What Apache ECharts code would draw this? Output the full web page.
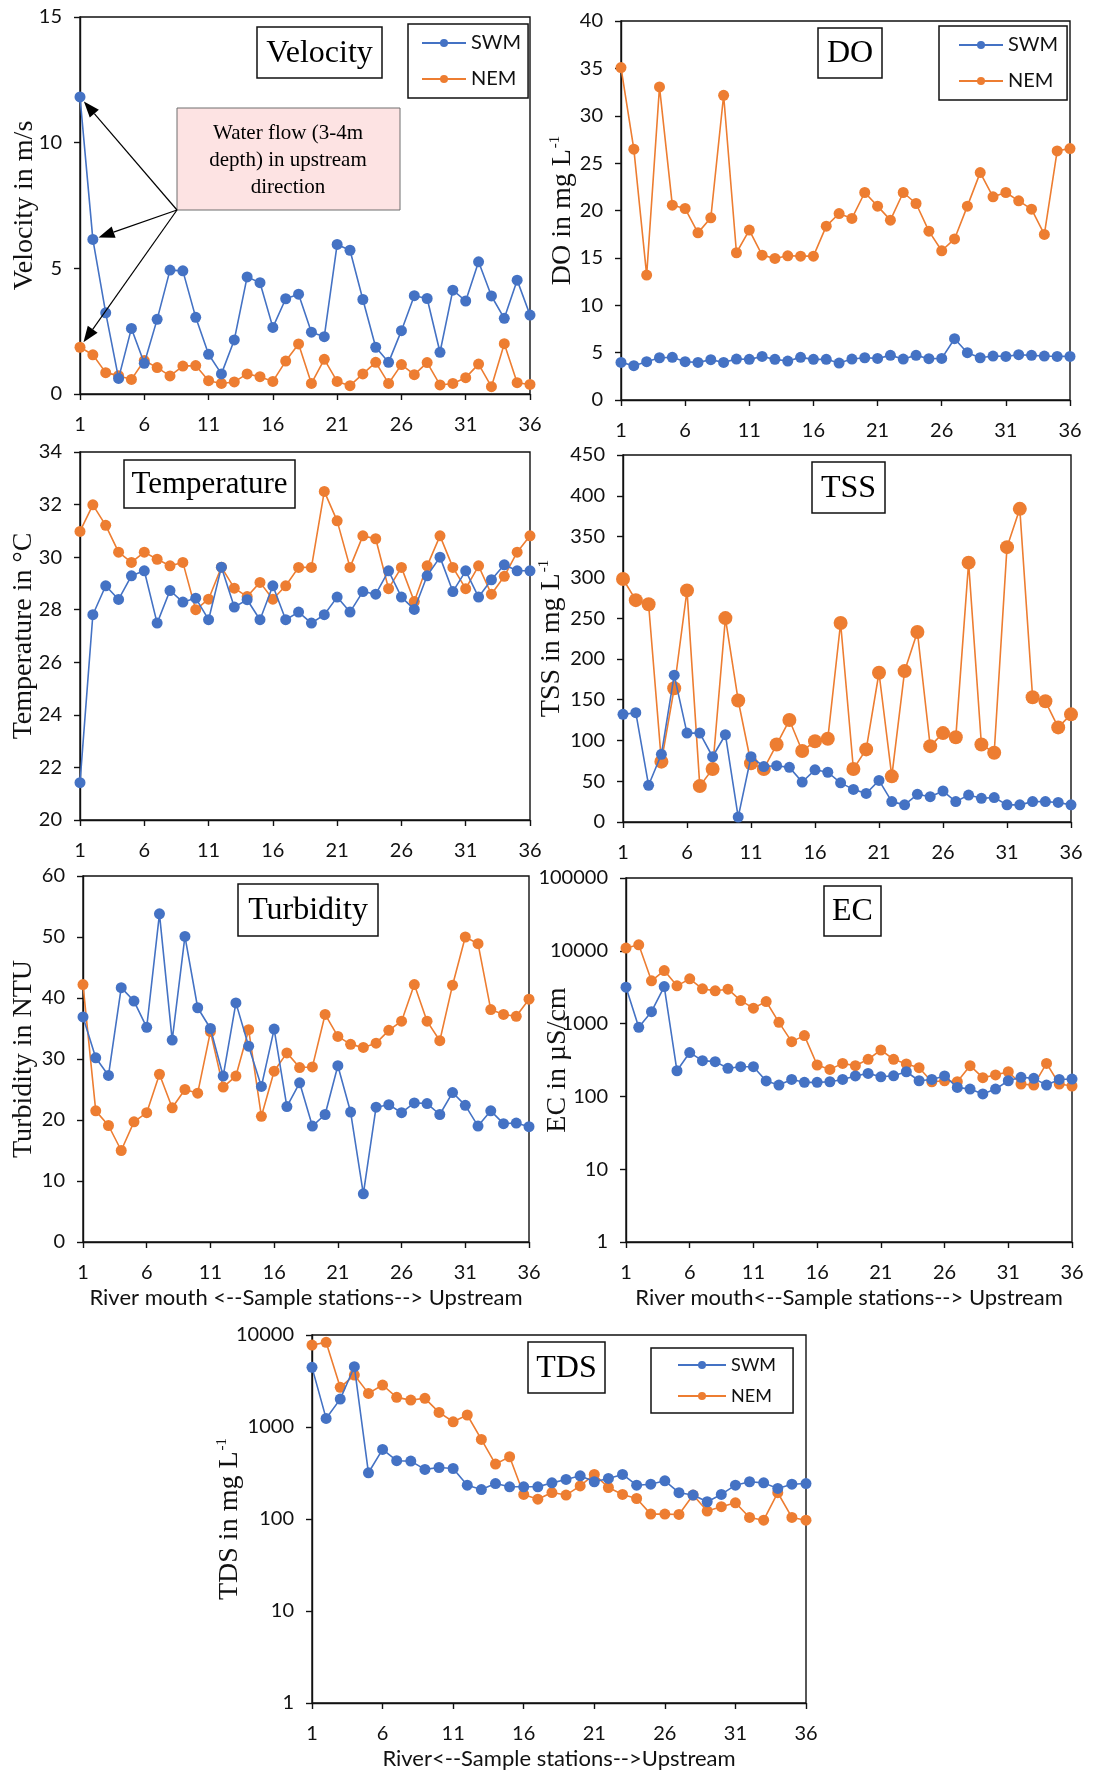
<!DOCTYPE html>
<html>
<head>
<meta charset="utf-8">
<script src="https://cdn.jsdelivr.net/npm/echarts@6/dist/echarts.min.js"></script>
<style>
  html, body { margin: 0; padding: 0; background: #fff; }
  #chart { width: 1093px; height: 1771px; }
</style>
</head>
<body>
<div id="chart"></div>
<script>
// sample stations (river mouth -> upstream)
const stations = ["1","2","3","4","5","6","7","8","9","10","11","12","13","14","15","16","17","18",
  "19","20","21","22","23","24","25","26","27","28","29","30","31","32","33","34","35","36"];

// velocity, m/s
const velSWM = [11.82,6.15,3.23,0.62,2.61,1.22,2.97,4.93,4.9,3.05,1.58,0.8,2.15,4.66,4.43,2.65,3.79,3.97,2.46,2.28,5.95,5.72,3.76,1.86,1.26,2.52,3.91,3.8,1.66,4.13,3.7,5.26,3.9,3.01,4.53,3.14];
const velNEM = [1.86,1.56,0.85,0.73,0.58,1.33,1.05,0.72,1.11,1.13,0.53,0.42,0.48,0.8,0.69,0.5,1.31,1.99,0.42,1.38,0.5,0.33,0.8,1.26,0.42,1.17,0.77,1.25,0.36,0.42,0.65,1.19,0.29,2.0,0.45,0.38];

// dissolved oxygen, mg/L
const doSWM = [3.97,3.62,4.04,4.46,4.5,4.04,3.97,4.25,3.97,4.32,4.29,4.6,4.29,4.11,4.5,4.29,4.29,3.9,4.32,4.46,4.39,4.71,4.32,4.71,4.36,4.39,6.47,4.99,4.46,4.64,4.6,4.78,4.71,4.64,4.6,4.6];
const doNEM = [35.08,26.47,13.18,33.04,20.56,20.21,17.64,19.23,32.16,15.54,17.93,15.29,14.94,15.22,15.18,15.18,18.35,19.68,19.16,21.9,20.46,18.98,21.9,20.74,17.82,15.75,17.0,20.46,24.0,21.44,21.9,21.02,20.14,17.47,26.29,26.54];

// temperature, °C
const tempSWM = [21.42,27.81,28.91,28.39,29.29,29.48,27.49,28.73,28.29,28.44,27.62,29.62,28.1,28.38,27.62,28.91,27.62,27.91,27.49,27.81,28.48,27.91,28.69,28.59,29.48,28.48,28.01,29.29,30.0,28.69,29.48,28.48,29.14,29.71,29.48,29.48];
const tempNEM = [30.98,31.99,31.21,30.19,29.8,30.19,29.92,29.67,29.8,28.0,28.4,29.62,28.82,28.5,29.04,28.4,28.91,29.61,29.61,32.5,31.38,29.61,30.81,30.7,28.8,29.61,28.31,29.67,30.81,29.61,28.8,29.67,28.59,29.27,30.19,30.81];

// total suspended solids, mg/L
const tssSWM = [132,134,45,83,180,109,109,80,107,6,80,68,69,67,49,64,61,48,40,35,51,25,21,34,31,38,25,33,29,30,21,21,25,25,24,21];
const tssNEM = [298,272,267,74,164,284,44,65,250,149,72,65,95,125,87,99,102,244,65,89,183,56,185,233,93,109,104,318,95,85,337,384,153,148,116,132];

// turbidity, NTU
const turbSWM = [36.9,30.2,27.3,41.7,39.5,35.2,53.8,33.1,50.1,38.4,35.0,27.2,39.2,32.1,25.5,34.9,22.2,26.1,19.0,20.9,28.9,21.3,7.9,22.1,22.5,21.2,22.8,22.7,20.9,24.5,22.4,19.0,21.5,19.4,19.5,18.9];
const turbNEM = [42.2,21.5,19.1,15.0,19.7,21.2,27.5,22.0,25.0,24.4,34.5,25.4,27.2,34.8,20.6,28.0,31.0,28.6,28.7,37.3,33.7,32.4,31.9,32.6,34.7,36.2,42.2,36.2,33.0,42.1,50.0,48.9,38.1,37.3,37.0,39.8];

// electrical conductivity, µS/cm
const ecSWM = [3160,890,1460,3230,225,400,310,300,243,256,256,163,143,171,156,156,159,171,191,207,186,192,218,164,171,191,133,126,108,126,164,183,177,143,171,173];
const ecNEM = [10900,12100,3870,5360,3300,4120,3000,2820,2970,2070,1630,2010,1040,565,684,270,235,284,264,323,434,323,279,248,159,164,159,264,181,197,218,148,143,284,148,139];

// total dissolved solids, mg/L
const tdsSWM = [4450,1240,2010,4520,318,570,430,426,346,363,354,233,209,243,224,224,224,247,269,295,254,276,305,233,239,260,193,182,154,185,233,254,247,215,239,243];
const tdsNEM = [7780,8320,2700,3670,2320,2860,2100,1960,2050,1440,1140,1350,733,395,475,185,164,194,182,229,305,220,185,167,113,113,112,182,122,136,150,104,97,193,104,97];

// y ranges [min, max, interval]
const velRange = [0, 15, 5];
const doRange = [0, 40, 5];
const tempRange = [20, 34, 2];
const tssRange = [0, 450, 50];
const turbRange = [0, 60, 10];
const ecRange = [1, 100000];
const tdsRange = [1, 10000];

const blue = "#4472C4";
const orange = "#ED7D31";
const ink = "#111";
const sans = "Lato";
const serif = "Liberation Serif";

const chart = echarts.init(document.getElementById("chart"), null, { renderer: "canvas" });

const grids = [
  { left: 80, top: 17, width: 450, height: 377 },
  { left: 621, top: 21, width: 449, height: 379 },
  { left: 80, top: 452, width: 450, height: 368 },
  { left: 623, top: 455, width: 448, height: 367 },
  { left: 83, top: 876, width: 446, height: 366 },
  { left: 626, top: 878, width: 446, height: 364 },
  { left: 312, top: 1335, width: 494, height: 368 },
].map(g => Object.assign({ show: true, borderColor: ink, borderWidth: 1.4, backgroundColor: "transparent" }, g));

const xNames = ["", "", "", "", "River mouth <--Sample stations--> Upstream",
  "River mouth<--Sample stations--> Upstream", "River<--Sample stations-->Upstream"];

const xAxes = grids.map((g, i) => ({
  type: "category",
  gridIndex: i,
  data: stations,
  boundaryGap: false,
  name: xNames[i],
  nameLocation: "middle",
  nameGap: 45,
  nameMoveOverlap: false,
  nameTextStyle: { fontFamily: sans, fontSize: 22, color: ink },
  axisLine: { lineStyle: { color: ink, width: 1.4 } },
  axisTick: { interval: 4, length: 6, lineStyle: { color: ink, width: 1.4 } },
  axisLabel: { interval: 4, fontFamily: sans, fontSize: 20, color: ink, margin: 21 },
  splitLine: { show: false },
}));

const supRich = {
  s: { fontFamily: serif, fontSize: 15, color: ink, verticalAlign: "top", padding: [0, 0, 14, 1] },
  n: { fontFamily: serif, fontSize: 28, color: ink },
};

function valueAxis(i, range, name, gap) {
  return {
    type: "value", gridIndex: i,
    min: range[0], max: range[1], interval: range[2],
    name: name, nameLocation: "middle", nameRotate: 90, nameGap: gap, nameMoveOverlap: false,
    nameTextStyle: { fontFamily: serif, fontSize: 28, color: ink, rich: supRich },
    axisLine: { show: true, lineStyle: { color: ink, width: 1.4 } },
    axisTick: { show: true, length: 6, lineStyle: { color: ink, width: 1.4 } },
    axisLabel: { fontFamily: sans, fontSize: 20, color: ink, margin: 18, formatter: v => String(v) },
    splitLine: { show: false },
  };
}

function logAxis(i, range, name, gap) {
  return {
    type: "log", logBase: 10, gridIndex: i,
    min: range[0], max: range[1],
    name: name, nameLocation: "middle", nameRotate: 90, nameGap: gap, nameMoveOverlap: false,
    nameTextStyle: { fontFamily: serif, fontSize: 28, color: ink, rich: supRich },
    axisLine: { show: true, lineStyle: { color: ink, width: 1.4 } },
    axisTick: { show: true, length: 6, lineStyle: { color: ink, width: 1.4 } },
    axisLabel: { fontFamily: sans, fontSize: 20, color: ink, margin: 18, formatter: v => String(Math.round(v)) },
    minorTick: { show: false },
    splitLine: { show: false },
  };
}

const yAxes = [
  valueAxis(0, velRange, "Velocity in m/s", 41),
  valueAxis(1, doRange, "{n|DO in mg L}{s|-1}", 44),
  valueAxis(2, tempRange, "Temperature in °C", 42),
  valueAxis(3, tssRange, "{n|TSS in mg L}{s|-1}", 57),
  valueAxis(4, turbRange, "Turbidity in NTU", 45),
  logAxis(5, ecRange, "EC in µS/cm", 54),
  logAxis(6, tdsRange, "{n|TDS in mg L}{s|-1}", 68),
];

function line(name, data, idx, color, size) {
  return {
    name, type: "line", xAxisIndex: idx, yAxisIndex: idx, data,
    symbol: "circle", symbolSize: size, showAllSymbol: true,
    itemStyle: { color }, lineStyle: { color, width: 1.6 },
    emphasis: { disabled: true }, animation: false, z: color === blue ? 3 : 2,
  };
}

const series = [
  line("SWM", velSWM, 0, blue, 11), line("NEM", velNEM, 0, orange, 11),
  line("SWM", doSWM, 1, blue, 11), line("NEM", doNEM, 1, orange, 11),
  line("SWM", tempSWM, 2, blue, 11), line("NEM", tempNEM, 2, orange, 11),
  line("SWM", tssSWM, 3, blue, 11), line("NEM", tssNEM, 3, orange, 14),
  line("SWM", turbSWM, 4, blue, 11), line("NEM", turbNEM, 4, orange, 11),
  line("SWM", ecSWM, 5, blue, 11), line("NEM", ecNEM, 5, orange, 11),
  line("SWM", tdsSWM, 6, blue, 11), line("NEM", tdsNEM, 6, orange, 11),
];

function legendBox(left, top, fs, gap, pad, iw) {
  return {
    data: ["SWM", "NEM"], orient: "vertical", left, top,
    padding: pad, itemGap: gap, itemWidth: iw, itemHeight: 10,
    borderColor: ink, borderWidth: 1.5, selectedMode: false,
    textStyle: { fontFamily: sans, fontSize: fs, color: ink },
  };
}

chart.setOption({
  backgroundColor: "#fff",
  animation: false,
  legend: [
    legendBox(408, 24, 20, 16, [9, 7, 9, 13], 44),
    legendBox(939, 26, 20, 16, [9, 9, 9, 19], 44),
    legendBox(651, 1348, 18, 13, [8, 17, 8, 26], 48),
  ],
  grid: grids,
  xAxis: xAxes,
  yAxis: yAxes,
  series,
});

// boxed panel titles [text, x0, y0, x1, y1, fontSize]
const titleBoxes = [
  ["Velocity", 257, 27, 382, 78, 32],
  ["DO", 818, 28, 882, 78, 32],
  ["Temperature", 124, 460, 295, 508, 31],
  ["TSS", 812, 462, 885, 513, 32],
  ["Turbidity", 238, 884, 378, 936, 32],
  ["EC", 824, 886, 881, 936, 32],
  ["TDS", 528, 1342, 605, 1393, 32],
];
const titleEls = [];
titleBoxes.forEach(t => {
  titleEls.push({
    type: "rect", z: 30,
    shape: { x: t[1], y: t[2], width: t[3] - t[1], height: t[4] - t[2] },
    style: { fill: "#fff", stroke: ink, lineWidth: 1.5 },
  });
  titleEls.push({
    type: "text", z: 31, x: (t[1] + t[3]) / 2, y: (t[2] + t[4]) / 2 + 1,
    style: { text: t[0], font: t[5] + "px 'Liberation Serif'", fill: "#000", align: "center", verticalAlign: "middle" },
  });
});

// annotation box with arrows pointing to the first stations
const srcPt = [177, 210];
const targets = [
  chart.convertToPixel({ xAxisIndex: 0, yAxisIndex: 0 }, [stations[0], velSWM[0]]),
  chart.convertToPixel({ xAxisIndex: 0, yAxisIndex: 0 }, [stations[1], velSWM[1]]),
  chart.convertToPixel({ xAxisIndex: 0, yAxisIndex: 0 }, [stations[0], velNEM[0]]),
];
const arrowEls = [];
targets.forEach(p => {
  const dx = srcPt[0] - p[0], dy = srcPt[1] - p[1];
  const len = Math.hypot(dx, dy);
  const ux = dx / len, uy = dy / len;
  const tip = [p[0] + ux * 6, p[1] + uy * 6];
  const base = [tip[0] + ux * 16, tip[1] + uy * 16];
  const px = -uy * 6, py = ux * 6;
  arrowEls.push({
    type: "line", z: 20,
    shape: { x1: srcPt[0], y1: srcPt[1], x2: base[0], y2: base[1] },
    style: { stroke: "#000", lineWidth: 1.2 },
  });
  arrowEls.push({
    type: "polygon", z: 20,
    shape: { points: [tip, [base[0] + px, base[1] + py], [base[0] - px, base[1] - py]] },
    style: { fill: "#000" },
  });
});

chart.setOption({
  graphic: [
    {
      type: "rect", z: 19,
      shape: { x: 177, y: 108, width: 223, height: 102 },
      style: { fill: "#fde3e3", stroke: "#6e6e6e", lineWidth: 1 },
    },
    {
      type: "text", z: 21, x: 288, y: 160,
      style: {
        text: "Water flow (3-4m\ndepth) in upstream\ndirection",
        font: "21px 'Liberation Serif'", fill: "#000",
        align: "center", verticalAlign: "middle", lineHeight: 27,
      },
    },
  ].concat(arrowEls, titleEls),
});

window.addEventListener("resize", () => chart.resize());
</script>
</body>
</html>
